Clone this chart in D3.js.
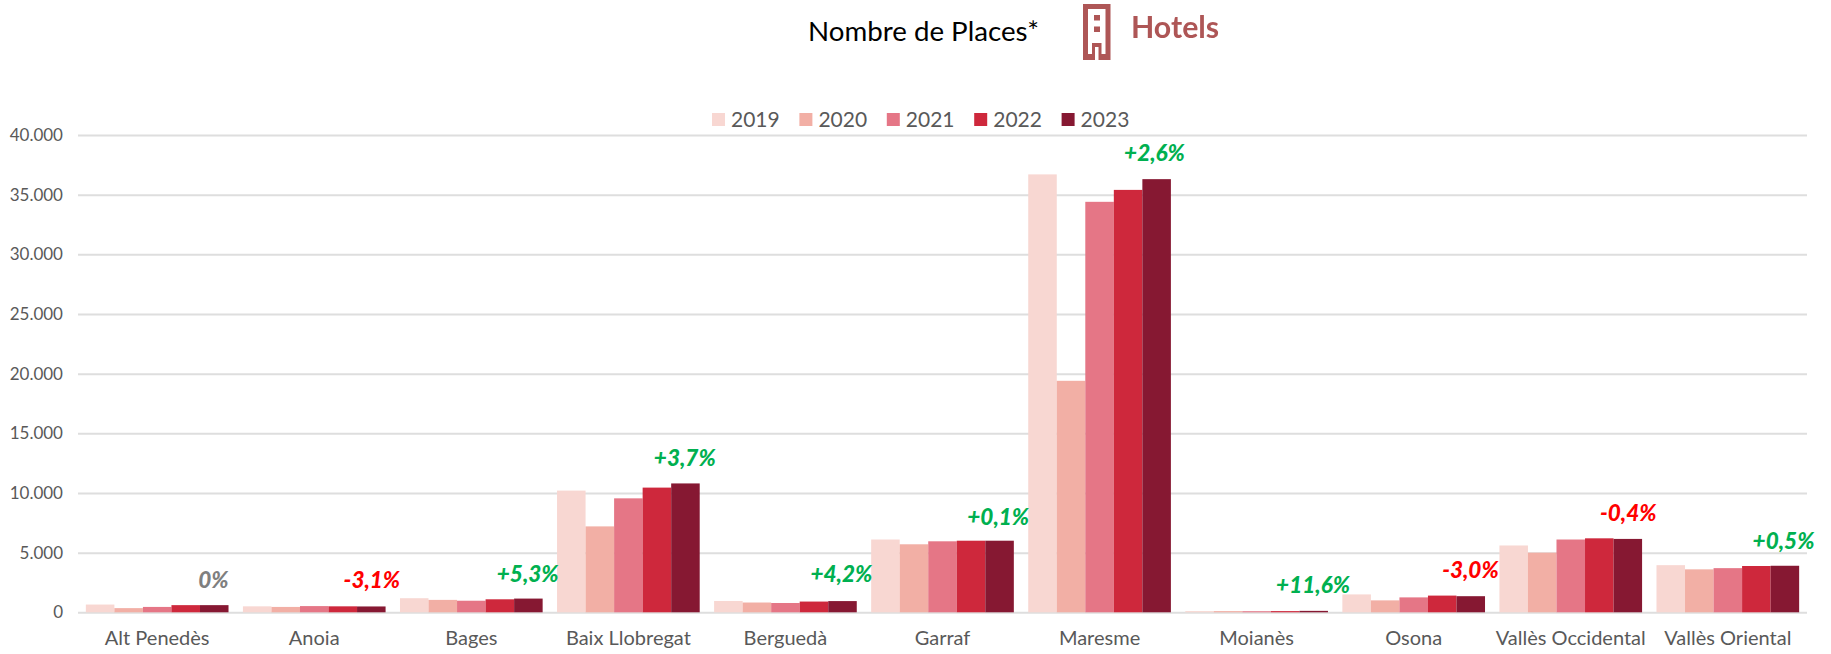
<!DOCTYPE html>
<html><head><meta charset="utf-8">
<script src="https://cdn.jsdelivr.net/npm/d3@7"></script>
<style>html,body{margin:0;padding:0;background:#fff}svg{display:block;font-family:Lato,"Noto Sans",sans-serif}</style>
</head><body><svg id="c" width="1831" height="654"></svg>
<script>
const categories=["Alt Penedès","Anoia","Bages","Baix Llobregat","Berguedà","Garraf","Maresme","Moianès","Osona","Vallès Occidental","Vallès Oriental"];
const years=["2019","2020","2021","2022","2023"];
const v2019=[650,500,1180,10200,950,6100,36700,100,1500,5600,3950];
const v2020=[350,450,1040,7200,820,5700,19400,100,1000,5000,3600];
const v2021=[450,520,970,9550,780,5950,34400,90,1250,6100,3700];
const v2022=[600,500,1090,10450,900,6000,35400,100,1400,6200,3880];
const v2023=[600,490,1150,10800,940,6000,36300,120,1350,6150,3900];
const changes=["0%","-3,1%","+5,3%","+3,7%","+4,2%","+0,1%","+2,6%","+11,6%","-3,0%","-0,4%","+0,5%"];
const ticks=[0,5000,10000,15000,20000,25000,30000,35000,40000];
const colors=["#F8D7D2","#F2AFA5","#E57686","#CE283C","#861832"];
// label nudges relative to the top-right of each group's last bar
const labelRight=[0,14.6,16,16,15.5,15.3,14,22,13.7,14.5,15.3];
const labelRise=[17,18,17,17,19,16,17.7,17.5,18,18,17];

const series=[v2019,v2020,v2021,v2022,v2023];
const svg=d3.select("#c");
const x=d3.scaleBand().domain(categories).range([78,1807]).paddingInner(0.0917).paddingOuter(0.05);
const xb=d3.scaleBand().domain(years).range([0,x.bandwidth()]);
const y=d3.scaleLinear().domain([0,40000]).range([612.3,135]);
const fmt=n=>d3.format(",")(n).replace(/,/g,".");

const defs=svg.append("defs");
defs.append("filter").attr("id","soft").append("feGaussianBlur").attr("stdDeviation",0.45);

const gy=svg.append("g").attr("transform","translate(78,0)").call(d3.axisLeft(y).tickValues(ticks).tickSize(-1729).tickPadding(15).tickFormat(fmt));
gy.select(".domain").remove();
gy.selectAll("line").attr("stroke","#DEDEDE").attr("stroke-width",2);
gy.selectAll("text").attr("font-size",17).attr("font-family","Lato").attr("fill","#595959");

const gx=svg.append("g").attr("transform","translate(0,612)").call(d3.axisBottom(x).tickSize(0).tickPadding(19));
gx.select(".domain").remove();
gx.selectAll("text").attr("font-size",20).attr("font-family","Lato").attr("fill","#595959");

series.forEach((vals,i)=>{
  svg.append("g").selectAll("rect").data(vals).join("rect")
    .attr("x",(d,j)=>x(categories[j])+xb(years[i]))
    .attr("width",xb.bandwidth())
    .attr("y",d=>y(d)).attr("height",d=>y(0)-y(d))
    .attr("fill",colors[i]);
});

svg.append("g").selectAll("text").data(changes).join("text")
  .attr("x",(d,j)=>x(categories[j])+x.bandwidth()+labelRight[j])
  .attr("y",(d,j)=>y(v2023[j])-labelRise[j])
  .attr("text-anchor","end").attr("font-size",22.5).attr("font-weight",900).attr("font-style","italic")
  .attr("fill",d=>d[0]==="+"?"#00B050":d[0]==="-"?"#FF0000":"#7F7F7F")
  .text(d=>d);

// legend
const lx=d3.scaleBand().domain(years).range([712,1149]);
const lg=svg.append("g").selectAll("g").data(years).join("g").attr("transform",d=>`translate(${lx(d)},0)`);
lg.append("rect").attr("y",113).attr("width",13).attr("height",13).attr("fill",(d,i)=>colors[i]);
lg.append("text").attr("x",19).attr("y",126.5).attr("font-size",21).attr("fill","#595959").text(d=>d);

// title
svg.append("text").attr("x",808).attr("y",41).attr("font-size",27.7).attr("fill","#000").text("Nombre de Places*");
const ic=svg.append("g").attr("fill","#AE5656").attr("filter","url(#soft)");
ic.append("path").attr("fill-rule","evenodd").attr("d","M1083 4h27.5v56H1083zM1088 9v45h4v-11h9.5v11h4V9z");
ic.append("rect").attr("x",1095).attr("y",47).attr("width",3.5).attr("height",13).attr("fill","#fff");
ic.append("rect").attr("x",1094).attr("y",15).attr("width",6).attr("height",5.5);
ic.append("rect").attr("x",1094).attr("y",26.5).attr("width",6).attr("height",5.5);
svg.append("text").attr("x",1131).attr("y",38).attr("font-size",30.3).attr("font-weight",700).attr("fill","#AE5656").attr("filter","url(#soft)").text("Hotels");
</script></body></html>
